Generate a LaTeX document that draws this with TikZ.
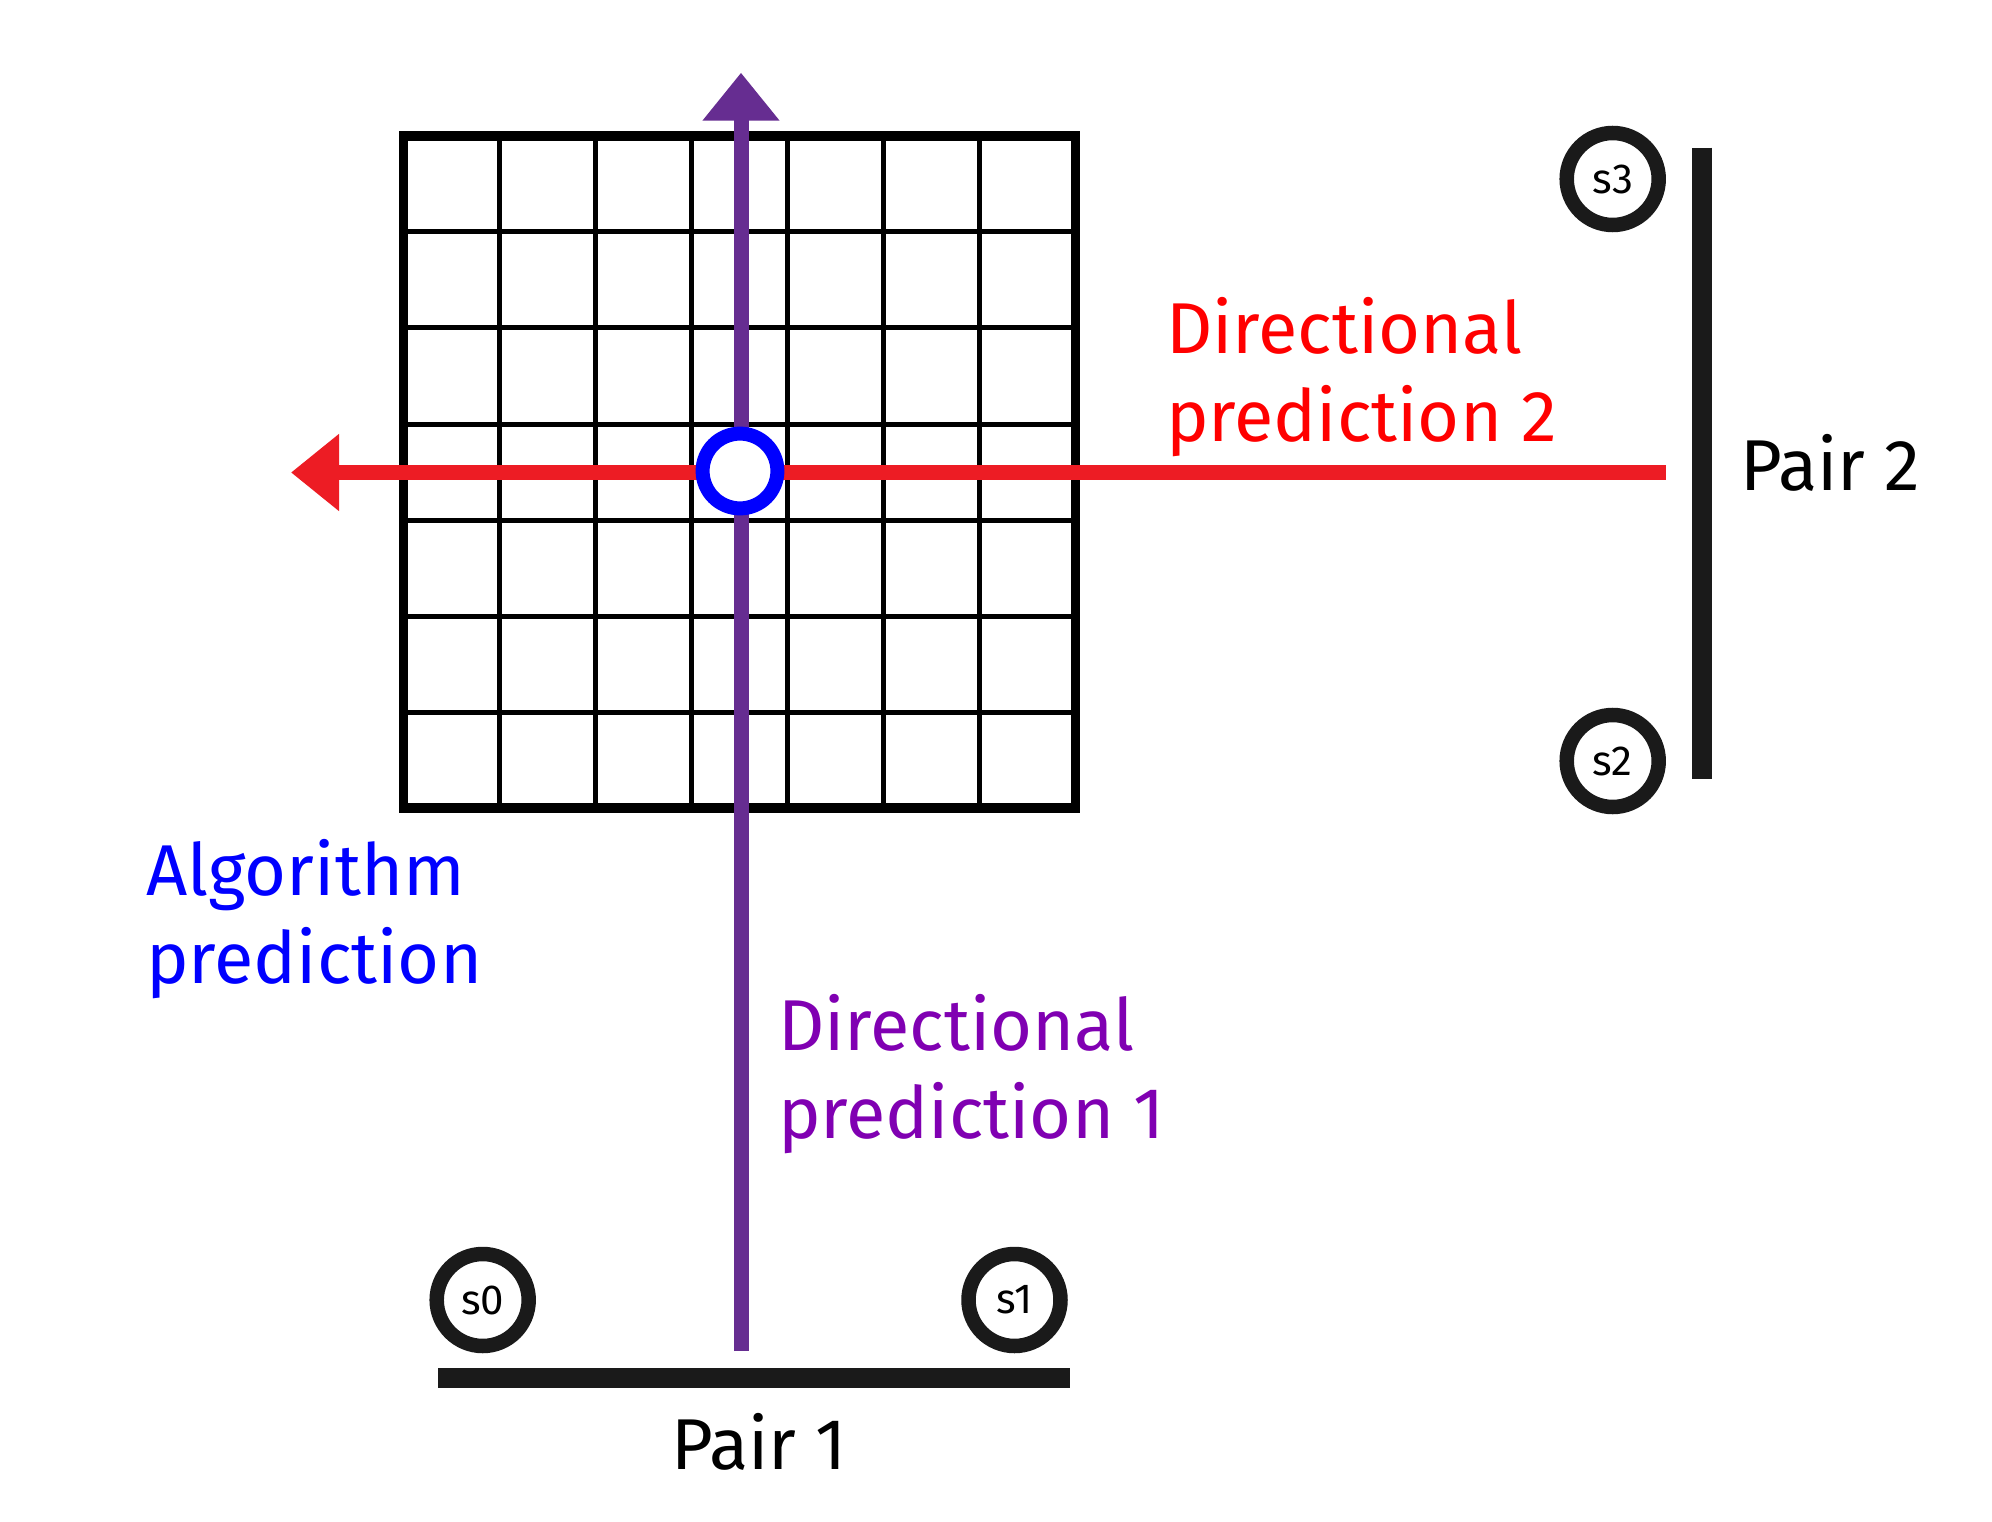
\documentclass[tikz,border=0pt]{standalone}
\usepackage{fontspec}
\setmainfont{Fira Sans}
\usetikzlibrary{arrows.meta}
\definecolor{barblack}{HTML}{1A1A1A}
\definecolor{arrowpurple}{HTML}{662D91}
\definecolor{arrowred}{HTML}{ED1C24}
\definecolor{textpurple}{RGB}{128,0,178}
\tikzset{
  gridthin/.style={line width=5pt, black},
  gridborder/.style={line width=9.5pt, black},
  bigarrow/.style={line width=15pt, -{Triangle[length=48pt,width=74pt]}},
  sensor/.style={circle, draw=barblack, line width=14.5pt, fill=white, minimum size=92pt, inner sep=0pt, font=\fontsize{42}{46}\selectfont},
  pairbar/.style={line width=20pt, barblack},
  biglabel/.style={inner sep=0pt, font=\fontsize{72}{88}\selectfont},
}
\begin{document}
\begin{tikzpicture}[x=1pt,y=-1pt]
\useasboundingbox (0,0) rectangle (1992,1522);
\fill[white] (0,0) rectangle (1992,1522);
% grid
\foreach \k in {1,...,6} {
  \draw[gridthin] ({403.5+96*\k},136) -- ({403.5+96*\k},808);
  \draw[gridthin] (403.5,{136+96*\k}) -- (1075.5,{136+96*\k});
}
\draw[gridborder] (403.5,136) rectangle (1075.5,808);
% arrows
\coordinate (p1start) at (741,1351);
\coordinate (p1tip) at (741,72.7);
\coordinate (p2start) at (1665.5,472.5);
\coordinate (p2tip) at (291,472.5);
\draw[bigarrow, arrowpurple] (p1start) -- (p1tip);
\draw[bigarrow, arrowred] (p2start) -- (p2tip);
% algorithm prediction point
\node[circle, draw=blue, line width=14pt, fill=white, minimum size=74.8pt, inner sep=0pt] (pred) at (740,471) {};
% sensors
\node[sensor] (s0) at (482.7,1300) {s0};
\node[sensor] (s1) at (1014.5,1300) {s1};
\node[sensor] (s2) at (1612.7,761) {s2};
\node[sensor] (s3) at (1612.7,179) {s3};
% pair bars
\draw[pairbar] (438,1378) -- (1070,1378);
\draw[pairbar] (1701.7,147.7) -- (1701.7,779.3);
% labels
\node[biglabel, anchor=base] (pair1) at (759,1469) {Pair 1};
\node[biglabel, anchor=base west] (pair2) at (1740,490) {Pair 2};
\node[biglabel, anchor=base west, text=red] (dp2) at (1166,353.3)
  {\begin{tabular}[t]{@{}l@{}}Directional\\prediction 2\end{tabular}};
\node[biglabel, anchor=base west, text=textpurple] (dp1) at (778,1050)
  {\begin{tabular}[t]{@{}l@{}}Directional\\prediction 1\end{tabular}};
\node[biglabel, anchor=base west, text=blue] (alg) at (146,895)
  {\begin{tabular}[t]{@{}l@{}}Algorithm\\prediction\end{tabular}};
\end{tikzpicture}
\end{document}
